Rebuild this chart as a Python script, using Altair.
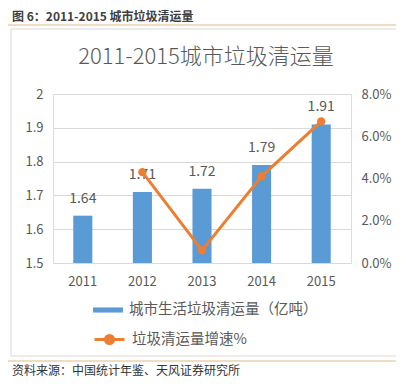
import altair as alt
import pandas as pd

years = ["2011", "2012", "2013", "2014", "2015"]
volume = [1.64, 1.71, 1.72, 1.79, 1.91]
growth_years = ["2012", "2013", "2014", "2015"]
growth = [0.043, 0.006, 0.041, 0.067]
left_ticks = [1.5, 1.6, 1.7, 1.8, 1.9, 2.0]
right_ticks = [0.0, 0.02, 0.04, 0.06, 0.08]

bar_name = "城市生活垃圾清运量（亿吨）"
line_name = "垃圾清运量增速%"
heading = "图 6：2011-2015 城市垃圾清运量"
chart_title = "2011-2015城市垃圾清运量"
source = "资料来源：中国统计年鉴、天风证券研究所"

FONT = "Noto Sans CJK SC"
GRAY = "#595959"
BLUE = "#5B9BD5"
ORANGE = "#ED7D31"

bars_df = pd.DataFrame({"year": years, "value": volume, "s": [bar_name] * len(years)})
line_df = pd.DataFrame({"year": growth_years, "g": growth, "s": [line_name] * len(growth_years)})

xenc = alt.X("year:N", sort=years,
             scale=alt.Scale(paddingInner=0.68, paddingOuter=0.34),
             axis=alt.Axis(title=None, labelAngle=0, ticks=False, domainColor="#D9D9D9",
                           labelFont=FONT, labelFontSize=13, labelColor=GRAY, labelPadding=12))

yscale = alt.Scale(domain=[1.5, 2.0], zero=False, nice=False)
yaxis = alt.Axis(title=None, values=left_ticks, format="~g",
                 ticks=False, domain=False, grid=True, gridColor="#D9D9D9", labelOverlap=False,
                 labelFont=FONT, labelFontSize=13, labelColor=GRAY, labelPadding=10)

gscale = alt.Scale(domain=[0, 0.08], nice=False)
gaxis = alt.Axis(title=None, orient="right", values=right_ticks, format=".1%",
                 ticks=False, domain=False, grid=False, labelOverlap=False,
                 labelFont=FONT, labelFontSize=13, labelColor=GRAY, labelPadding=10)

bars = alt.Chart(bars_df).mark_bar(color=BLUE).encode(
    x=xenc,
    y=alt.Y("value:Q", scale=yscale, axis=yaxis),
    y2=alt.datum(1.5),
    fill=alt.Fill("s:N", scale=alt.Scale(domain=[bar_name], range=[BLUE]),
                  legend=alt.Legend(title=None, orient="none", legendX=40, legendY=201,
                                    padding=0, symbolType="M-1,-0.17H1V0.17H-1Z", symbolSize=900,
                                    symbolStrokeWidth=0, labelOffset=6, labelLimit=400,
                                    labelFont=FONT, labelFontSize=14.5, labelColor=GRAY)),
)

labels = alt.Chart(bars_df).mark_text(font=FONT, fontSize=14, color=GRAY, baseline="middle", dy=-17).encode(
    x=alt.X("year:N", sort=years),
    y=alt.Y("value:Q", scale=yscale, axis=yaxis),
    text=alt.Text("value:Q", format=".2f"),
)

left = alt.layer(bars, labels)

line = alt.Chart(line_df).mark_line(strokeWidth=3).encode(
    x=alt.X("year:N", sort=years),
    y=alt.Y("g:Q", scale=gscale, axis=gaxis),
    stroke=alt.Stroke("s:N", scale=alt.Scale(domain=[line_name], range=[ORANGE]),
                      legend=alt.Legend(title=None, orient="none", legendX=40, legendY=229,
                                        padding=0,
                                        symbolType="M-1,0H1M0.27,0A0.27,0.27,0,1,1,-0.27,0A0.27,0.27,0,1,1,0.27,0Z",
                                        symbolSize=900, symbolStrokeWidth=3, symbolFillColor=ORANGE,
                                        labelOffset=6, labelLimit=400,
                                        labelFont=FONT, labelFontSize=14.5, labelColor=GRAY)),
)

pts = alt.Chart(line_df).mark_point(filled=True, size=70, opacity=1, color=ORANGE).encode(
    x=alt.X("year:N", sort=years),
    y=alt.Y("g:Q", scale=gscale, axis=gaxis),
)

right = alt.layer(line, pts)

one = pd.DataFrame({"k": [0]})

box = alt.Chart(one).mark_rect(fill=None, stroke="#D9D9D9", strokeWidth=1).encode(
    x=alt.value(-42), x2=alt.value(347), y=alt.value(-65), y2=alt.value(262))

sep_top = alt.Chart(one).mark_rule(color="#EFCFAE", strokeWidth=1.5).encode(
    x=alt.value(-53), x2=alt.value(359), y=alt.value(-69))
sep_bot = alt.Chart(one).mark_rule(color="#EFCFAE", strokeWidth=1.5).encode(
    x=alt.value(-53), x2=alt.value(359), y=alt.value(267))

head = alt.Chart(pd.DataFrame({"t": [heading]})).mark_text(
    font=FONT, fontSize=12, fontWeight="bold", color="#404040", align="left", baseline="middle").encode(
    text="t:N", x=alt.value(-41), y=alt.value(-77))

title = alt.Chart(pd.DataFrame({"t": [chart_title]})).mark_text(
    font=FONT, fontSize=22, fontWeight=300, color=GRAY, align="center", baseline="middle").encode(
    text="t:N", x=alt.value(153), y=alt.value(-37))

src = alt.Chart(pd.DataFrame({"t": [source]})).mark_text(
    font=FONT, fontSize=12, color="#333333", align="left", baseline="middle").encode(
    text="t:N", x=alt.value(-41), y=alt.value(277))

chart = alt.layer(box, sep_top, sep_bot, head, title, src, left, right).resolve_scale(
    y="independent", fill="independent", stroke="independent"
).properties(
    width=298, height=169,
    autosize=alt.AutoSizeParams(type="none"),
    padding={"left": 45, "top": 86, "right": 45, "bottom": 114},
).configure_view(stroke=None).configure(background="white")

chart.save("out.html", embed_options={"renderer": "svg", "actions": False})
